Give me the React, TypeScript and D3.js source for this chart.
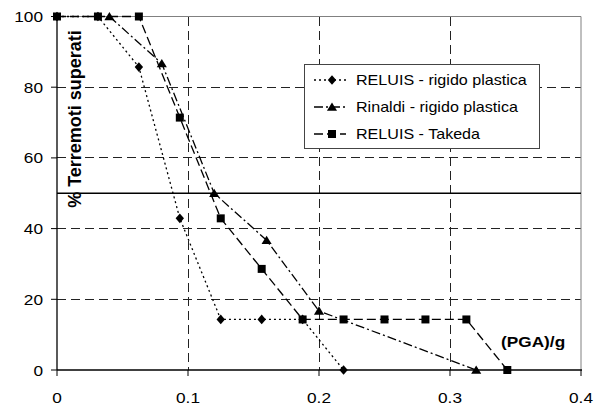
import { useEffect, useRef } from "react";
import * as d3 from "d3";

// ---- data ----
const xTicks = [0, 0.1, 0.2, 0.3, 0.4];
const yTicks = [0, 20, 40, 60, 80, 100];

const reluisRigidoX = [0, 0.03125, 0.0625, 0.09375, 0.125, 0.15625, 0.1875, 0.21875];
const reluisRigidoY = [100, 100, 85.7, 42.9, 14.3, 14.3, 14.3, 0];

const rinaldiX = [0.04, 0.08, 0.12, 0.16, 0.2, 0.32];
const rinaldiY = [100, 86.7, 50, 36.7, 16.7, 0];

const takedaX = [0, 0.03125, 0.0625, 0.09375, 0.125, 0.15625, 0.1875, 0.21875, 0.25, 0.28125, 0.3125, 0.34375];
const takedaY = [100, 100, 100, 71.4, 42.9, 28.6, 14.3, 14.3, 14.3, 14.3, 14.3, 0];

const seriesNames = ["RELUIS - rigido plastica", "Rinaldi - rigido plastica", "RELUIS - Takeda"];
const refLine = 50;

type Pt = { x: number; y: number };
const zip = (xs: number[], ys: number[]): Pt[] => xs.map((x, i) => ({ x, y: ys[i] }));

export default function App() {
  const ref = useRef<SVGSVGElement>(null);

  useEffect(() => {
    const left = 57, right = 581, top = 16.5, bottom = 370;
    const stretch = 1.15;

    const svg = d3.select(ref.current);
    svg.selectAll("*").remove();

    const x = d3.scaleLinear().domain([0, 0.4]).range([left, right]);
    const y = d3.scaleLinear().domain([0, 100]).range([bottom, top]);

    // grid
    const grid = svg.append("g").attr("shape-rendering", "crispEdges");
    grid.selectAll("line.h")
      .data(yTicks.filter(t => t > 0 && t < 100))
      .enter()
      .append("line")
      .attr("class", "h")
      .attr("x1", left).attr("x2", right)
      .attr("y1", d => y(d)).attr("y2", d => y(d))
      .attr("stroke", "#222").attr("stroke-dasharray", "9,5");

    grid.selectAll("line.v")
      .data(xTicks.filter(t => t > 0 && t < 0.4))
      .enter()
      .append("line")
      .attr("class", "v")
      .attr("x1", d => x(d)).attr("x2", d => x(d))
      .attr("y1", top).attr("y2", bottom)
      .attr("stroke", "#222").attr("stroke-dasharray", "9,5");

    // frame (top / right in gray)
    svg.append("path")
      .attr("d", `M${left},${top}H${right}V${bottom}`)
      .attr("fill", "none").attr("stroke", "#808080");

    // 50% line
    svg.append("line")
      .attr("x1", left).attr("x2", right)
      .attr("y1", y(refLine)).attr("y2", y(refLine))
      .attr("stroke", "#000").attr("stroke-width", 1.3);

    // axes
    svg.append("line")
      .attr("x1", left).attr("x2", right + 1).attr("y1", bottom).attr("y2", bottom)
      .attr("stroke", "#000").attr("stroke-width", 1.3);
    svg.append("line")
      .attr("x1", left).attr("x2", left).attr("y1", top).attr("y2", bottom)
      .attr("stroke", "#000").attr("stroke-width", 1.3);

    svg.append("g").selectAll("line").data(xTicks).enter().append("line")
      .attr("x1", d => x(d)).attr("x2", d => x(d))
      .attr("y1", bottom).attr("y2", bottom + 6)
      .attr("stroke", "#000");
    svg.append("g").selectAll("line").data(yTicks).enter().append("line")
      .attr("x1", left - 6).attr("x2", left)
      .attr("y1", d => y(d)).attr("y2", d => y(d))
      .attr("stroke", "#000");

    const font = "'Liberation Sans', Arial, sans-serif";

    svg.append("g").selectAll("text").data(xTicks).enter().append("text")
      .attr("transform", d => `translate(${x(d)},403) scale(${stretch},1)`)
      .attr("text-anchor", "middle")
      .attr("font-family", font).attr("font-size", 15)
      .text(d => String(d));

    svg.append("g").selectAll("text").data(yTicks).enter().append("text")
      .attr("transform", d => `translate(43,${y(d) + 5.5}) scale(${stretch},1)`)
      .attr("text-anchor", "end")
      .attr("font-family", font).attr("font-size", 15)
      .text(d => String(d));

    // axis titles
    svg.append("text")
      .attr("transform", `translate(81,119) rotate(-90)`)
      .attr("text-anchor", "middle")
      .attr("font-family", font).attr("font-size", 18).attr("font-weight", "bold")
      .text("% Terremoti superati");

    svg.append("text")
      .attr("transform", `translate(501,347) scale(${stretch},1)`)
      .attr("font-family", font).attr("font-size", 15).attr("font-weight", "bold")
      .text("(PGA)/g");

    // markers
    const square = (s: number) => `M${-s},${-s}h${2 * s}v${2 * s}h${-2 * s}Z`;
    const diamond = (s: number) => `M0,${-s * 1.15}L${s},0L0,${s * 1.15}L${-s},0Z`;
    const triangle = (s: number) => `M0,${-s}L${s * 1.1},${s * 0.8}L${-s * 1.1},${s * 0.8}Z`;

    const line = d3.line<Pt>().x(d => x(d.x)).y(d => y(d.y));

    const series = [
      { pts: zip(reluisRigidoX, reluisRigidoY), dash: "2,3", marker: diamond(4.2) },
      { pts: zip(rinaldiX, rinaldiY), dash: "9,3,2,3", marker: triangle(4.6) },
      { pts: zip(takedaX, takedaY), dash: "9,4", marker: square(4) },
    ];

    series.forEach(s => {
      svg.append("path")
        .datum(s.pts)
        .attr("fill", "none")
        .attr("stroke", "#000")
        .attr("stroke-width", 1.3)
        .attr("stroke-dasharray", s.dash)
        .attr("d", line);
      svg.append("g").selectAll("path").data(s.pts).enter().append("path")
        .attr("transform", d => `translate(${x(d.x)},${y(d.y)})`)
        .attr("d", s.marker)
        .attr("fill", "#000");
    });

    // legend
    const lg = svg.append("g");
    lg.append("rect")
      .attr("x", 304.5).attr("y", 64.5).attr("width", 235).attr("height", 84)
      .attr("fill", "#fff").attr("stroke", "#444");
    const rows = [80, 107, 134];
    series.forEach((s, i) => {
      lg.append("line")
        .attr("x1", 314).attr("x2", 346).attr("y1", rows[i]).attr("y2", rows[i])
        .attr("stroke", "#000").attr("stroke-width", 1.3)
        .attr("stroke-dasharray", s.dash);
      lg.append("path")
        .attr("transform", `translate(332,${rows[i]})`)
        .attr("d", s.marker).attr("fill", "#000");
      lg.append("text")
        .attr("transform", `translate(356,${rows[i] + 5}) scale(${stretch},1)`)
        .attr("font-family", font).attr("font-size", 14)
        .text(seriesNames[i]);
    });
  }, []);

  return (
    <svg
      ref={ref}
      width={603}
      height={405}
      style={{ position: "absolute", left: 0, top: 0, background: "#fff" }}
    />
  );
}
